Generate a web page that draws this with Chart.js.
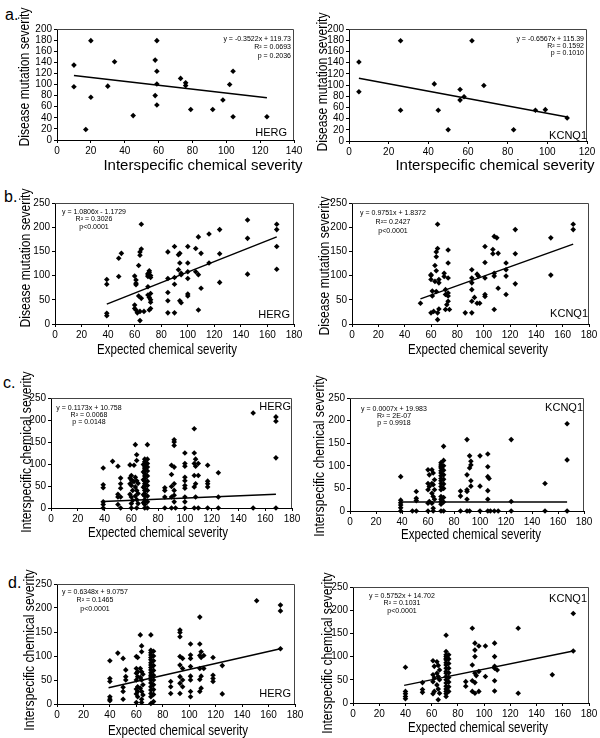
<!DOCTYPE html>
<html>
<head>
<meta charset="utf-8">
<script src="https://cdn.jsdelivr.net/npm/chart.js@4.4.1/dist/chart.umd.min.js"></script>
<style>
  body { margin: 0; background: #fff; }
  #page { position: relative; width: 600px; height: 738px; overflow: hidden; font-family: "Liberation Sans", Arial, sans-serif; }
  .box { position: absolute; }
  .tag { position: absolute; font-size: 16px; line-height: 16px; color: #000; }
</style>
</head>
<body>
<div id="page">
  <div class="tag" style="left:5px;top:7px">a.</div>
  <div class="tag" style="left:4px;top:189px">b.</div>
  <div class="tag" style="left:3px;top:375px">c.</div>
  <div class="tag" style="left:8px;top:575px">d.</div>
</div>
<script>
"use strict";
// data: [expected/interspecific severity, severity]
const aHergPts = [[10,135],[10,96],[17,19],[20,179],[20,77],[30,97],[34,141],[45,44],[58,144],[58,80],[59,179],[59,124],[59,101],[59,63],[73,111],[76,103],[76,98],[79,55],[92,55],[98,72],[102,100],[104,124],[104,42],[124,42]];
const aKcnqPts = [[5,141],[5,88],[26,179],[26,55],[43,102],[45,55],[50,20],[56,92],[56,73],[58,79],[62,179],[68,99],[83,20],[94,55],[99,56],[110,41]];

const bHergPts = [[39,92],[39,82],[39,22],[39,17],[48,136],[48,98],[50,146],
  [60,99],[61,91],[61,84],[61,81],[60,39],[60,32],[61,29],[62,23],[64,26],[63,58],
  [63,121],[64,142],[64,149],[65,155],[65,206],[64,7],[65,53],[67,26],
  [70,98],[70,101],[70,104],[71,107],[71,110],[72,100],[72,96],[70,77],[70,60],[71,55],[72,50],[71,29],[72,32],[72,63],[72,45],
  [85,149],[85,94],[85,65],[85,48],[85,23],[90,160],[90,96],[90,82],[90,23],
  [93,112],[93,143],[94,146],[94,48],[95,44],[94,126],[95,102],[95,105],
  [100,160],[100,126],[100,108],[100,94],[100,62],[100,58],
  [106,156],[108,180],[108,102],[106,108],[108,29],[110,146],[110,74],
  [116,186],[116,126],[124,195],[124,145],[124,86],[145,177],[145,215],[145,103],
  [167,206],[167,195],[167,160],[167,113]];
const bKcnqPts = [[52,43],[60,100],[60,102],[60,92],[61,68],[61,58],[60,23],[62,26],
  [63,121],[64,110],[64,149],[65,156],[64,139],[65,206],[65,9],[65,23],[66,31],[66,85],[66,92],[63,88],[64,67],
  [70,98],[70,105],[71,71],[71,61],[71,30],[72,40],[73,153],[73,126],[73,95],[73,64],[73,58],[73,47],[74,30],
  [86,23],[91,112],[91,95],[91,85],[91,71],[91,47],[91,23],[93,55],[95,103],[96,99],[95,43],[97,43],
  [101,160],[101,127],[101,95],[101,61],[101,57],[107,154],[107,145],[108,181],[110,178],[108,105],[108,99],[108,30],
  [111,146],[111,74],[117,126],[117,112],[117,99],[117,61],[124,195],[124,145],[124,83],
  [151,178],[151,101],[168,206],[168,195]];

const cHergPts = [[39,91],[39,53],[39,46],[39,14],[39,8],[39,0],[46,106],[50,95],[50,31],[50,25],[50,8],
  [52,68],[52,55],[52,45],[52,25],[52,0],
  [59,98],[60,74],[59,68],[60,64],[61,61],[59,55],[60,51],[61,40],[59,31],[60,25],[61,17],[60,10],[60,0],[62,97],[62,60],
  [63,144],[64,121],[64,108],[63,70],[64,62],[65,56],[63,48],[64,40],[65,33],[63,27],[64,19],[65,10],[64,0],
  [70,111],[70,105],[70,101],[70,97],[70,93],[70,89],[70,84],[70,78],[70,73],[70,67],[70,61],[70,55],[70,51],[70,45],[70,40],[70,33],[70,27],[70,19],[70,14],[70,8],[70,0],
  [72,144],[72,111],[72,101],[72,93],[72,84],[72,73],[72,61],[72,51],[72,40],[72,27],[72,14],[72,0],
  [69,99],[69,82],[69,64],[69,47],[69,30],[69,12],
  [85,46],[85,40],[85,25],[85,0],
  [90,97],[90,76],[90,49],[90,25],[90,0],[92,155],[92,150],[92,142],[92,93],[92,55],[92,40],[92,29],[92,14],[93,0],
  [100,125],[100,101],[100,95],[100,70],[100,62],[100,51],[100,45],[100,25],[100,14],[100,0],
  [107,180],[107,125],[108,111],[107,101],[108,95],[107,74],[108,55],[107,48],[108,25],[107,0],[110,101],[110,74],[110,0],
  [117,97],[117,61],[117,55],[117,48],[117,0],[125,80],[125,25],[125,0],[151,216],[151,0],
  [168,207],[168,197],[168,114],[168,0]];
const cKcnqPts = [[39,76],[39,24],[39,18],[39,13],[39,7],[39,0],[48,0],[51,43],[51,28],[51,23],[51,0],
  [60,91],[61,80],[60,61],[61,54],[60,47],[61,21],[60,17],[60,0],
  [63,91],[64,84],[65,69],[63,61],[64,58],[65,47],[63,39],[64,32],[65,26],[63,17],[64,6],[64,0],
  [70,107],[70,102],[70,98],[70,95],[70,89],[70,84],[70,78],[70,72],[70,67],[70,61],[70,54],[70,47],[70,32],[70,26],[70,21],[70,15],[70,0],
  [72,143],[72,112],[72,100],[72,90],[72,80],[72,70],[72,60],[72,50],[72,30],[72,20],[72,0],
  [85,44],[85,33],[85,0],
  [90,158],[90,80],[90,47],[90,43],[90,26],[90,0],[92,122],[93,110],[93,102],[92,95],[93,67],[93,55],[92,0],
  [100,122],[100,55],[100,0],[106,126],[106,98],[106,76],[107,72],[106,45],[106,26],[106,0],[108,0],
  [111,0],[114,0],[124,158],[124,21],[124,0],[150,61],[150,0],[167,193],[167,113],[167,0]];

const dHergPts = [[40,90],[40,53],[40,47],[40,15],[40,10],[40,7],[46,106],[50,95],[50,35],[50,26],[50,10],
  [52,71],[52,57],[52,50],
  [60,99],[61,97],[60,74],[61,67],[60,64],[61,57],[60,50],[61,36],[60,31],[61,26],[60,21],[61,15],[60,3],
  [63,144],[64,121],[64,109],[63,74],[64,67],[65,62],[63,55],[64,50],[65,40],[63,33],[64,26],[65,19],[64,10],[64,3],
  [71,144],[71,112],[71,107],[71,102],[71,97],[71,92],[71,86],[71,81],[71,76],[71,71],[71,65],[71,60],[71,56],[71,50],[71,44],[71,36],[71,29],[71,22],[71,15],[71,1],
  [73,110],[73,100],[73,90],[73,80],[73,70],[73,60],[73,50],[73,40],[73,30],[73,20],[73,5],
  [86,47],[86,36],[86,22],
  [93,154],[93,149],[93,140],[93,99],[93,81],[93,57],[93,43],[93,22],[95,95],[95,74],[95,50],[95,36],
  [101,125],[101,102],[101,95],[101,78],[101,58],[101,50],[101,26],[101,15],
  [108,181],[108,125],[109,109],[108,101],[109,97],[108,74],[109,58],[108,51],[109,33],[108,26],[111,101],[111,74],
  [118,97],[118,60],[118,53],[118,47],[125,80],[125,21],[151,215],[169,206],[169,194],[169,115]];
const dKcnqPts = [[40,77],[40,25],[40,20],[40,14],[40,9],[53,44],[53,29],[53,23],
  [61,91],[62,79],[61,61],[62,54],[61,46],[62,25],[61,20],
  [64,89],[65,81],[66,71],[64,64],[65,57],[66,50],[64,39],[65,30],[66,21],[65,7],
  [71,146],[71,111],[71,104],[71,100],[71,96],[71,93],[71,87],[71,82],[71,75],[71,68],[71,64],[71,57],[71,50],[71,43],[71,36],[71,30],[71,25],[71,20],[71,14],
  [73,104],[73,95],[73,85],[73,75],[73,65],[73,55],[73,45],[73,35],[73,25],
  [86,46],[86,36],
  [91,161],[93,129],[93,114],[93,100],[91,82],[93,64],[94,59],[91,48],[93,44],[91,25],[93,21],
  [96,123],[96,68],[96,25],[101,123],[101,57],
  [108,129],[108,100],[108,79],[108,75],[108,48],[108,26],[110,71],
  [126,161],[126,21],[152,61],[168,193],[168,112]];

// regression line end points
const aHergFit = [[10,116],[124,76]];
const aKcnqFit = [[5,112],[110,43]];
const bHergFit = [[39,41],[167,180]];
const bKcnqFit = [[52,52],[168,165]];
const cHergFit = [[39,15],[168,31]];
const cKcnqFit = [[39,20],[167,20]];
const dHergFit = [[39,34],[169,115]];
const dKcnqFit = [[39,38],[168,112]];

const aHergEq = ["y = -0.3522x + 119.73", "R\u00b2 = 0.0693", "p = 0.2036"];
const aKcnqEq = ["y = -0.6567x + 115.39", "R\u00b2 = 0.1592", "p = 0.1010"];
const bHergEq = ["y = 1.0806x - 1.1729", "R\u00b2 = 0.3026", "p<0.0001"];
const bKcnqEq = ["y = 0.9751x + 1.8372", "R\u00b2= 0.2427", "p<0.0001"];
const cHergEq = ["y = 0.1173x + 10.758", "R\u00b2 = 0.0068", "p = 0.0148"];
const cKcnqEq = ["y = 0.0007x + 19.983", "R\u00b2 = 2E-07", "p = 0.9918"];
const dHergEq = ["y = 0.6348x + 9.0757", "R\u00b2 = 0.1465", "p<0.0001"];
const dKcnqEq = ["y = 0.5752x + 14.702", "R\u00b2 = 0.1031", "p<0.0001"];

const xTitleInter = "Interspecific chemical severity";
const xTitleExp = "Expected chemical severity";
const yTitleDis = "Disease mutation severity";
const yTitleInter = "Interspecific chemical severity";

const FONT = '"Liberation Sans", Arial, Helvetica, sans-serif';
const LEFT = 56, TOP = 40, RIGHT = 14, BOTTOM = 44;

// layout of each panel (page pixels)
const panels = [
  { pts: aHergPts, fit: aHergFit, eq: aHergEq, gene: "HERG", xMax: 140, yMax: 200, yStep: 20,
    plot: {l: 57, t: 29, r: 294, b: 140}, xT: [xTitleInter, 203, 166, 1], yT: [yTitleDis, 25, 77],
    eqPos: [291, 39, 8.5, "right"], genePos: [287, 133] },
  { pts: aKcnqPts, fit: aKcnqFit, eq: aKcnqEq, gene: "KCNQ1", xMax: 120, yMax: 200, yStep: 20,
    plot: {l: 349, t: 29, r: 587, b: 141}, xT: [xTitleInter, 495, 166, 1], yT: [yTitleDis, 323, 82],
    eqPos: [584, 39, 7, "right"], genePos: [587, 136] },
  { pts: bHergPts, fit: bHergFit, eq: bHergEq, gene: "HERG", xMax: 180, yMax: 250, yStep: 50,
    plot: {l: 55, t: 203, r: 294, b: 324}, xT: [xTitleExp, 167, 350, 0.77], yT: [yTitleDis, 26, 258],
    eqPos: [94, 212, 7.5, "center"], genePos: [290, 315] },
  { pts: bKcnqPts, fit: bKcnqFit, eq: bKcnqEq, gene: "KCNQ1", xMax: 180, yMax: 250, yStep: 50,
    plot: {l: 352, t: 203, r: 589, b: 324}, xT: [xTitleExp, 478, 350, 0.77], yT: [yTitleDis, 325, 266],
    eqPos: [393, 213, 9, "center"], genePos: [588, 314] },
  { pts: cHergPts, fit: cHergFit, eq: cHergEq, gene: "HERG", xMax: 180, yMax: 250, yStep: 50,
    plot: {l: 51, t: 398, r: 292, b: 508}, xT: [xTitleExp, 158, 533, 0.77], yT: [yTitleInter, 27, 452],
    eqPos: [89, 408, 7, "center"], genePos: [291, 407] },
  { pts: cKcnqPts, fit: cKcnqFit, eq: cKcnqEq, gene: "KCNQ1", xMax: 180, yMax: 250, yStep: 50,
    plot: {l: 350, t: 398, r: 584, b: 511}, xT: [xTitleExp, 471, 535, 0.77], yT: [yTitleInter, 320, 456],
    eqPos: [394, 409, 7, "center"], genePos: [583, 408] },
  { pts: dHergPts, fit: dHergFit, eq: dHergEq, gene: "HERG", xMax: 180, yMax: 250, yStep: 50,
    plot: {l: 57, t: 584, r: 295, b: 704}, xT: [xTitleExp, 178, 731, 0.77], yT: [yTitleInter, 30, 650],
    eqPos: [95, 592, 8.5, "center"], genePos: [291, 694] },
  { pts: dKcnqPts, fit: dKcnqFit, eq: dKcnqEq, gene: "KCNQ1", xMax: 180, yMax: 250, yStep: 50,
    plot: {l: 353, t: 587, r: 589, b: 703}, xT: [xTitleExp, 478, 728, 0.77], yT: [yTitleInter, 328, 653],
    eqPos: [402, 596, 7.5, "center"], genePos: [587, 598.5] }
];

// frame on top/right plus all the label text of a panel
const panelText = {
  id: "panelText",
  afterDraw(chart, args, o) {
    const ctx = chart.ctx;
    const ca = chart.chartArea;
    ctx.save();
    ctx.strokeStyle = "#444";
    ctx.lineWidth = 1;
    ctx.beginPath();
    ctx.moveTo(ca.left, ca.top + 0.5);
    ctx.lineTo(ca.right - 0.5, ca.top + 0.5);
    ctx.lineTo(ca.right - 0.5, ca.bottom);
    ctx.stroke();
    ctx.fillStyle = "#000";
    for (const t of o.texts) {
      ctx.save();
      ctx.translate(t.x - o.offX, t.y - o.offY);
      if (t.rot) ctx.rotate(t.rot);
      ctx.scale(t.sx || 1, 1);
      ctx.font = t.size + "px " + FONT;
      ctx.textAlign = t.align || "center";
      ctx.textBaseline = "middle";
      ctx.fillText(t.text, 0, 0);
      ctx.restore();
    }
    ctx.restore();
  }
};

function makePanel(p) {
  const offX = p.plot.l - LEFT, offY = p.plot.t - TOP;
  const w = p.plot.r - p.plot.l + LEFT + RIGHT;
  const h = p.plot.b - p.plot.t + TOP + BOTTOM;
  const box = document.createElement("div");
  box.className = "box";
  box.style.left = offX + "px";
  box.style.top = offY + "px";
  const cv = document.createElement("canvas");
  cv.width = w; cv.height = h;
  cv.style.width = w + "px"; cv.style.height = h + "px";
  box.appendChild(cv);
  document.getElementById("page").appendChild(box);

  let texts = [];
  texts.push({text: p.xT[0], x: p.xT[1], y: p.xT[2], size: 15, sx: p.xT[3]});
  texts.push({text: p.yT[0], x: p.yT[1], y: p.yT[2], size: 15, sx: 0.81, rot: -Math.PI / 2});
  for (let i = 0; i < p.eq.length; i++) {
    texts.push({text: p.eq[i], x: p.eqPos[0], y: p.eqPos[1] + i * p.eqPos[2], size: 7, align: p.eqPos[3]});
  }
  texts.push({text: p.gene, x: p.genePos[0], y: p.genePos[1], size: 11, align: "right"});

  const tickFont = {family: FONT, size: 10};
  new Chart(cv, {
    type: "scatter",
    data: {
      datasets: [
        {
          data: p.pts.map(q => ({x: q[0], y: q[1]})),
          pointStyle: "rectRot",
          pointRadius: 2.8,
          backgroundColor: "#000",
          borderColor: "#000",
          borderWidth: 0,
          clip: false
        },
        {
          data: p.fit.map(q => ({x: q[0], y: q[1]})),
          showLine: true,
          pointRadius: 0,
          borderColor: "#000",
          borderWidth: 1.5
        }
      ]
    },
    options: {
      responsive: false,
      animation: false,
      layout: {padding: {left: 0, top: TOP, right: RIGHT, bottom: 0}},
      plugins: {
        legend: {display: false},
        tooltip: {enabled: false},
        panelText: {offX: offX, offY: offY, texts: texts}
      },
      scales: {
        x: {
          type: "linear", min: 0, max: p.xMax,
          ticks: {stepSize: 20, color: "#000", font: tickFont, padding: 2, maxRotation: 0, autoSkip: false},
          grid: {drawOnChartArea: false, drawTicks: true, tickLength: 3, color: "#000"},
          border: {color: "#000", width: 1},
          afterFit(s) { s.height = BOTTOM; }
        },
        y: {
          type: "linear", min: 0, max: p.yMax,
          ticks: {stepSize: p.yStep, color: "#000", font: tickFont, padding: 2, autoSkip: false},
          grid: {drawOnChartArea: false, drawTicks: true, tickLength: 3, color: "#000"},
          border: {color: "#000", width: 1},
          afterFit(s) { s.width = LEFT; }
        }
      }
    },
    plugins: [panelText]
  });
}

for (let i = 0; i < panels.length; i++) {
  makePanel(panels[i]);
}
</script>
</body>
</html>
